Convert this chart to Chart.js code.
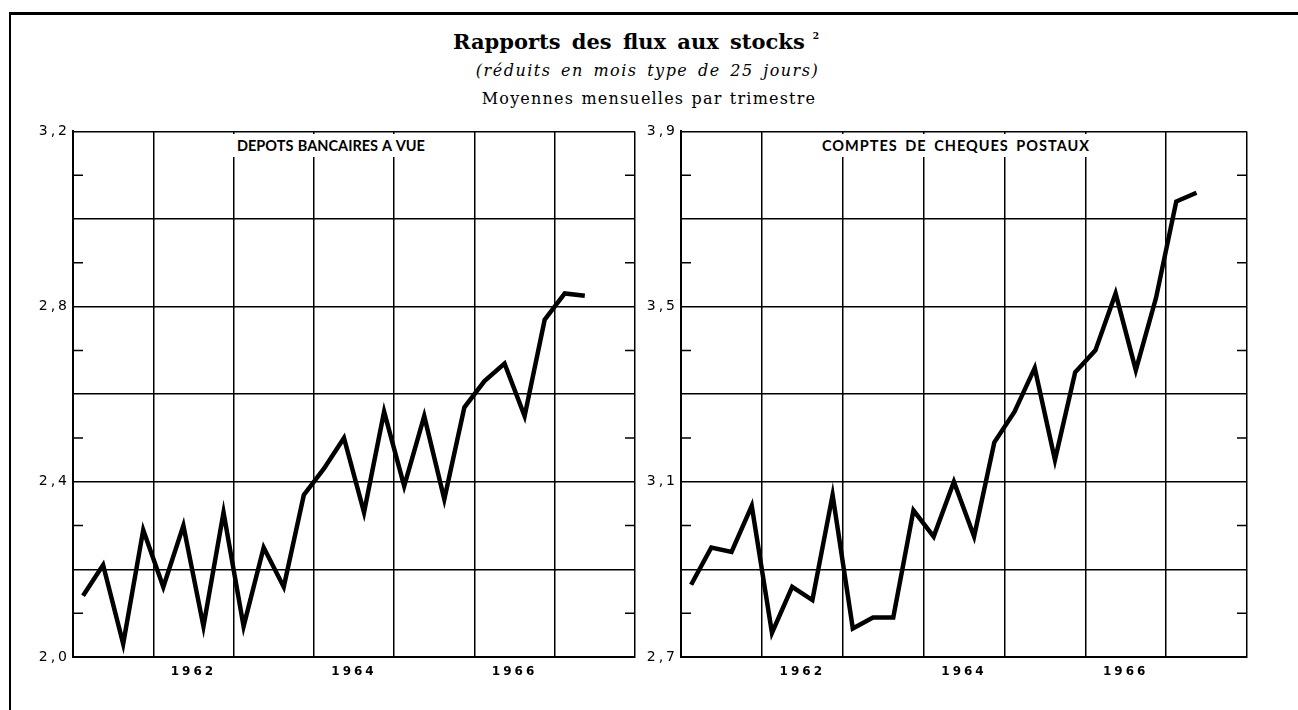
<!DOCTYPE html>
<html>
<head>
<meta charset="utf-8">
<script src="https://cdn.jsdelivr.net/npm/chart.js@4"></script>
<style>
body { margin: 0; background: #fff; width: 1298px; height: 710px; overflow: hidden; position: relative; font-family: "DejaVu Serif", serif; color: #000; }
#cadre { position: absolute; left: 9px; top: 12px; width: 1289px; height: 698px; border-top: 3px solid #000; border-left: 2px solid #000; }
.titre { position: absolute; left: 0; text-align: center; }
#t1 { top: 29px; width: 1272px; font-size: 21px; font-weight: bold; word-spacing: 4px; }
#t1 sup { font-size: 9px; margin-left: 8px; vertical-align: 10px; }
#t2 { top: 61px; width: 1295px; font-size: 16px; font-style: italic; letter-spacing: 1.5px; word-spacing: 3px; }
#t3 { top: 89px; width: 1298px; font-size: 16px; letter-spacing: 1.2px; word-spacing: 1px; }
canvas { position: absolute; }
.panneau { position: absolute; top: 134px; height: 23px; line-height: 23px; background: #fff; font-family: Lato, sans-serif; font-weight: bold; font-size: 14.5px; padding: 0 4px; }
</style>
</head>
<body>
<div id="cadre"></div>
<div class="titre" id="t1">Rapports des flux aux stocks<sup>2</sup></div>
<div class="titre" id="t2">(réduits en mois type de 25 jours)</div>
<div class="titre" id="t3">Moyennes mensuelles par trimestre</div>
<canvas id="chartDepots" width="610" height="580" style="left:33px;top:120px"></canvas>
<canvas id="chartCheques" width="620" height="580" style="left:641px;top:120px"></canvas>
<div class="panneau" style="left:233px;word-spacing:1px">DEPOTS BANCAIRES A VUE</div>
<div class="panneau" style="left:818px;letter-spacing:1px;word-spacing:3px">COMPTES DE CHEQUES POSTAUX</div>
<script>
// trimestres a partir du 1er trimestre 1961
var premiereAnnee = 1961;
var nbTrimestres = 28;
var anneesAffichees = ["1962", "1964", "1966"];

var depotsBancaires = [2.14, 2.21, 2.03, 2.29, 2.16, 2.30, 2.07, 2.33, 2.07, 2.25, 2.16, 2.37, 2.43,
    2.50, 2.33, 2.56, 2.39, 2.55, 2.36, 2.57, 2.63, 2.67, 2.55, 2.77, 2.83, 2.825];
var chequesPostaux = [2.865, 2.95, 2.94, 3.045, 2.755, 2.86, 2.83, 3.07, 2.765, 2.79, 2.79, 3.035, 2.975,
    3.10, 2.975, 3.19, 3.26, 3.36, 3.15, 3.35, 3.40, 3.53, 3.355, 3.52, 3.74, 3.76];

var ticksDepots = ["2,0", "2,4", "2,8", "3,2"];
var ticksCheques = ["2,7", "3,1", "3,5", "3,9"];

// rang du dixieme compte depuis le bas de l'axe
function rang(scale, v) {
    return Math.round((v - scale.min) * 10);
}

var petitsTraits = {
    id: 'petitsTraits',
    beforeDraw: function (chart) {
        chart.ctx.letterSpacing = '3px';
    },
    afterDraw: function (chart) {
        var ctx = chart.ctx;
        var a = chart.chartArea;
        var y = chart.scales.y;
        ctx.save();
        ctx.strokeStyle = '#000';
        ctx.lineWidth = 1.5;
        y.ticks.forEach(function (t) {
            if (rang(y, t.value) % 2 == 1) {
                var py = y.getPixelForValue(t.value);
                ctx.beginPath();
                ctx.moveTo(a.left, py);
                ctx.lineTo(a.left + 10, py);
                ctx.moveTo(a.right - 10, py);
                ctx.lineTo(a.right, py);
                ctx.stroke();
            }
        });
        ctx.restore();
    }
};

function versPoints(valeurs) {
    return valeurs.map(function (v, i) {
        return { x: i + 0.5, y: v };
    });
}

function dessiner(id, valeurs, ymin, ymax, labelsY, paddingRight) {
    new Chart(id, {
        type: 'line',
        data: {
            datasets: [{
                data: versPoints(valeurs),
                borderColor: '#000',
                borderWidth: 4.5,
                borderJoinStyle: 'miter',
                pointRadius: 0,
                tension: 0
            }]
        },
        options: {
            responsive: false,
            animation: false,
            layout: { padding: { top: 10, right: paddingRight, bottom: 13, left: 0 } },
            plugins: { legend: { display: false }, tooltip: { enabled: false } },
            scales: {
                x: {
                    type: 'linear',
                    min: 0,
                    max: nbTrimestres,
                    afterFit: function (s) { s.height = 30; },
                    border: { display: true, color: '#000', width: 2 },
                    grid: {
                        drawTicks: false,
                        lineWidth: 1.5,
                        color: function (c) { return c.tick.value % 4 == 0 ? '#000' : 'rgba(0,0,0,0)'; }
                    },
                    ticks: {
                        stepSize: 2,
                        autoSkip: false,
                        maxRotation: 0,
                        padding: 8,
                        color: '#000',
                        font: { family: 'DejaVu Sans', size: 12, weight: 'bold' },
                        callback: function (v) {
                            if (v % 4 != 2) return '';
                            var an = String(premiereAnnee + Math.floor(v / 4));
                            return anneesAffichees.indexOf(an) >= 0 ? an : '';
                        }
                    }
                },
                y: {
                    min: ymin,
                    max: ymax,
                    afterFit: function (s) { s.width = 40; },
                    border: { display: true, color: '#000', width: 2 },
                    grid: {
                        drawTicks: false,
                        lineWidth: 1.5,
                        color: function (c) {
                            return rang(c.scale, c.tick.value) % 2 == 0 ? '#000' : 'rgba(0,0,0,0)';
                        }
                    },
                    ticks: {
                        stepSize: 0.1,
                        autoSkip: false,
                        padding: 3,
                        color: '#000',
                        font: { family: 'DejaVu Sans', size: 14 },
                        callback: function (v) {
                            var s = v.toFixed(1).replace('.', ',');
                            return labelsY.indexOf(s) >= 0 ? s : '';
                        }
                    }
                }
            }
        },
        plugins: [petitsTraits]
    });
}

dessiner('chartDepots', depotsBancaires, 2.0, 3.2, ticksDepots, 6);
dessiner('chartCheques', chequesPostaux, 2.7, 3.9, ticksCheques, 14);
</script>
</body>
</html>
